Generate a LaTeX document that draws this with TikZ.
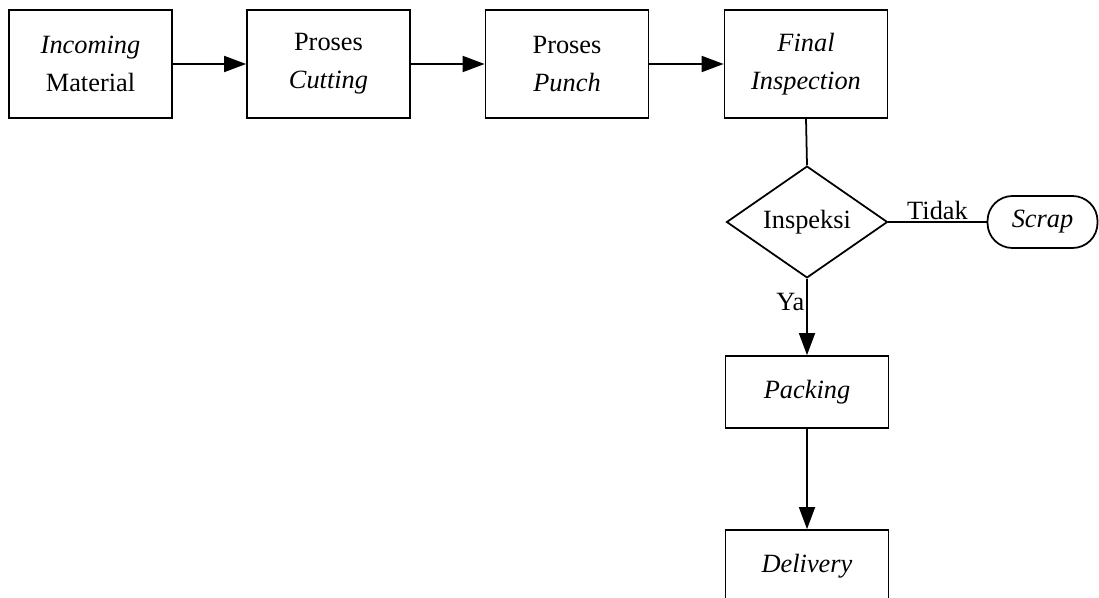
\documentclass[tikz,border=0pt]{standalone}
\usepackage{fontspec}
\setmainfont{Liberation Serif}
\usetikzlibrary{shapes.geometric,arrows.meta}
\tikzset{
  box/.style={draw, line width=1pt, minimum width=3.26cm, minimum height=2.16cm, align=center, inner sep=2pt},
  lowbox/.style={box, minimum height=1.44cm},
  decision/.style={draw, diamond, line width=1pt, minimum width=3.22cm, minimum height=2.16cm, inner sep=0pt},
  term/.style={draw, line width=1pt, rounded corners=0.5cm, minimum width=2.2cm, minimum height=1.04cm},
  flow/.style={line width=1pt, -{Triangle[length=4.4mm,width=3.2mm]}},
  link/.style={line width=1pt},
  lbl/.style={inner sep=1pt},
}

\begin{document}
\begin{tikzpicture}[font=\fontsize{15}{21.5}\selectfont]
  \useasboundingbox (0,0) rectangle (21.98,11.94);
  \clip (0,0) rectangle (21.98,11.94);

  % top row
  \node[box] (inc) at (1.81,10.66)  {\textit{Incoming}\\Material};
  \node[box] (cut) at (6.57,10.66)  {Proses\\\textit{Cutting}};
  \node[box] (pun) at (11.34,10.66) {Proses\\\textit{Punch}};
  \node[box] (fin) at (16.12,10.66) {\textit{Final}\\\textit{Inspection}};

  % decision and branches
  \node[decision] (insp)  at (16.14,7.50) {Inspeksi};
  \node[term]     (scrap) at (20.85,7.50) {\textit{Scrap}};
  \node[lowbox]   (pack)  at (16.14,4.10) {\textit{Packing}};
  \node[lowbox]   (deliv) at (16.14,0.62) {\textit{Delivery}};

  \draw[flow] (inc) -- (cut);
  \draw[flow] (cut) -- (pun);
  \draw[flow] (pun) -- (fin);
  \draw[link] (fin.south) -- (insp.north);
  \draw[link] (insp.east) -- node[lbl,above] {Tidak} (scrap.west);
  \draw[flow] (insp.south) -- node[lbl,left,pos=0.3] {Ya} (pack.north);
  \draw[flow] (pack) -- (deliv);
\end{tikzpicture}
\end{document}
